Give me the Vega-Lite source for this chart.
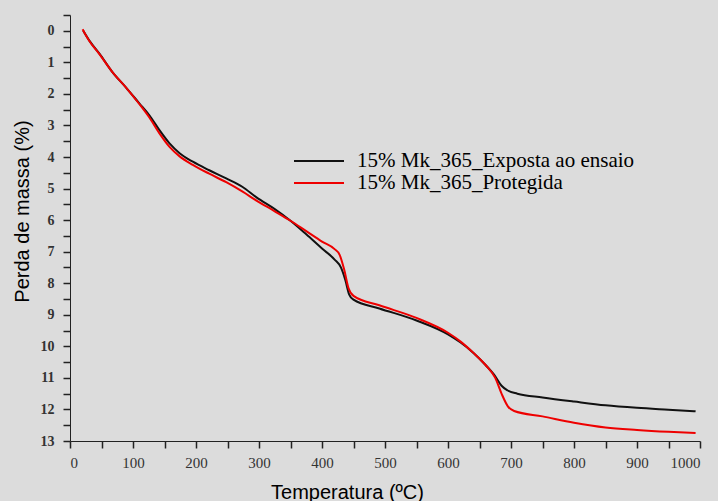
{
  "$schema": "https://vega.github.io/schema/vega-lite/v6.json",
  "width": 630,
  "height": 426,
  "autosize": {"type": "none"},
  "padding": {"left": 70, "top": 15, "right": 18, "bottom": 60},
  "background": "#dcdcdc",
  "config": {"view": {"stroke": null}},
  "data": {
    "values": [
      {"T": 21, "perda": 0.0, "serie": "15% Mk_365_Exposta ao ensaio"},
      {"T": 31, "perda": 0.32, "serie": "15% Mk_365_Exposta ao ensaio"},
      {"T": 47, "perda": 0.73, "serie": "15% Mk_365_Exposta ao ensaio"},
      {"T": 67, "perda": 1.3, "serie": "15% Mk_365_Exposta ao ensaio"},
      {"T": 89, "perda": 1.8, "serie": "15% Mk_365_Exposta ao ensaio"},
      {"T": 110, "perda": 2.3, "serie": "15% Mk_365_Exposta ao ensaio"},
      {"T": 126, "perda": 2.68, "serie": "15% Mk_365_Exposta ao ensaio"},
      {"T": 142, "perda": 3.15, "serie": "15% Mk_365_Exposta ao ensaio"},
      {"T": 158, "perda": 3.57, "serie": "15% Mk_365_Exposta ao ensaio"},
      {"T": 174, "perda": 3.88, "serie": "15% Mk_365_Exposta ao ensaio"},
      {"T": 195, "perda": 4.15, "serie": "15% Mk_365_Exposta ao ensaio"},
      {"T": 221, "perda": 4.42, "serie": "15% Mk_365_Exposta ao ensaio"},
      {"T": 248, "perda": 4.68, "serie": "15% Mk_365_Exposta ao ensaio"},
      {"T": 274, "perda": 4.95, "serie": "15% Mk_365_Exposta ao ensaio"},
      {"T": 296, "perda": 5.28, "serie": "15% Mk_365_Exposta ao ensaio"},
      {"T": 325, "perda": 5.65, "serie": "15% Mk_365_Exposta ao ensaio"},
      {"T": 350, "perda": 6.02, "serie": "15% Mk_365_Exposta ao ensaio"},
      {"T": 375, "perda": 6.45, "serie": "15% Mk_365_Exposta ao ensaio"},
      {"T": 400, "perda": 6.9, "serie": "15% Mk_365_Exposta ao ensaio"},
      {"T": 420, "perda": 7.25, "serie": "15% Mk_365_Exposta ao ensaio"},
      {"T": 430, "perda": 7.5, "serie": "15% Mk_365_Exposta ao ensaio"},
      {"T": 437, "perda": 7.9, "serie": "15% Mk_365_Exposta ao ensaio"},
      {"T": 443, "perda": 8.35, "serie": "15% Mk_365_Exposta ao ensaio"},
      {"T": 450, "perda": 8.52, "serie": "15% Mk_365_Exposta ao ensaio"},
      {"T": 491, "perda": 8.8, "serie": "15% Mk_365_Exposta ao ensaio"},
      {"T": 550, "perda": 9.18, "serie": "15% Mk_365_Exposta ao ensaio"},
      {"T": 600, "perda": 9.62, "serie": "15% Mk_365_Exposta ao ensaio"},
      {"T": 620, "perda": 9.88, "serie": "15% Mk_365_Exposta ao ensaio"},
      {"T": 640, "perda": 10.2, "serie": "15% Mk_365_Exposta ao ensaio"},
      {"T": 660, "perda": 10.6, "serie": "15% Mk_365_Exposta ao ensaio"},
      {"T": 675, "perda": 10.95, "serie": "15% Mk_365_Exposta ao ensaio"},
      {"T": 685, "perda": 11.25, "serie": "15% Mk_365_Exposta ao ensaio"},
      {"T": 695, "perda": 11.4, "serie": "15% Mk_365_Exposta ao ensaio"},
      {"T": 710, "perda": 11.5, "serie": "15% Mk_365_Exposta ao ensaio"},
      {"T": 750, "perda": 11.62, "serie": "15% Mk_365_Exposta ao ensaio"},
      {"T": 800, "perda": 11.75, "serie": "15% Mk_365_Exposta ao ensaio"},
      {"T": 850, "perda": 11.87, "serie": "15% Mk_365_Exposta ao ensaio"},
      {"T": 900, "perda": 11.95, "serie": "15% Mk_365_Exposta ao ensaio"},
      {"T": 950, "perda": 12.01, "serie": "15% Mk_365_Exposta ao ensaio"},
      {"T": 993, "perda": 12.06, "serie": "15% Mk_365_Exposta ao ensaio"},
      {"T": 20, "perda": -0.05, "serie": "15% Mk_365_Protegida"},
      {"T": 24, "perda": 0.1, "serie": "15% Mk_365_Protegida"},
      {"T": 31, "perda": 0.33, "serie": "15% Mk_365_Protegida"},
      {"T": 47, "perda": 0.75, "serie": "15% Mk_365_Protegida"},
      {"T": 67, "perda": 1.3, "serie": "15% Mk_365_Protegida"},
      {"T": 89, "perda": 1.8, "serie": "15% Mk_365_Protegida"},
      {"T": 110, "perda": 2.32, "serie": "15% Mk_365_Protegida"},
      {"T": 126, "perda": 2.75, "serie": "15% Mk_365_Protegida"},
      {"T": 142, "perda": 3.25, "serie": "15% Mk_365_Protegida"},
      {"T": 158, "perda": 3.68, "serie": "15% Mk_365_Protegida"},
      {"T": 174, "perda": 3.98, "serie": "15% Mk_365_Protegida"},
      {"T": 195, "perda": 4.25, "serie": "15% Mk_365_Protegida"},
      {"T": 221, "perda": 4.53, "serie": "15% Mk_365_Protegida"},
      {"T": 248, "perda": 4.8, "serie": "15% Mk_365_Protegida"},
      {"T": 274, "perda": 5.1, "serie": "15% Mk_365_Protegida"},
      {"T": 296, "perda": 5.38, "serie": "15% Mk_365_Protegida"},
      {"T": 325, "perda": 5.72, "serie": "15% Mk_365_Protegida"},
      {"T": 350, "perda": 6.02, "serie": "15% Mk_365_Protegida"},
      {"T": 375, "perda": 6.35, "serie": "15% Mk_365_Protegida"},
      {"T": 400, "perda": 6.68, "serie": "15% Mk_365_Protegida"},
      {"T": 420, "perda": 6.92, "serie": "15% Mk_365_Protegida"},
      {"T": 428, "perda": 7.1, "serie": "15% Mk_365_Protegida"},
      {"T": 435, "perda": 7.55, "serie": "15% Mk_365_Protegida"},
      {"T": 442, "perda": 8.15, "serie": "15% Mk_365_Protegida"},
      {"T": 450, "perda": 8.4, "serie": "15% Mk_365_Protegida"},
      {"T": 491, "perda": 8.7, "serie": "15% Mk_365_Protegida"},
      {"T": 550, "perda": 9.1, "serie": "15% Mk_365_Protegida"},
      {"T": 600, "perda": 9.57, "serie": "15% Mk_365_Protegida"},
      {"T": 620, "perda": 9.85, "serie": "15% Mk_365_Protegida"},
      {"T": 640, "perda": 10.2, "serie": "15% Mk_365_Protegida"},
      {"T": 660, "perda": 10.6, "serie": "15% Mk_365_Protegida"},
      {"T": 675, "perda": 11.0, "serie": "15% Mk_365_Protegida"},
      {"T": 685, "perda": 11.5, "serie": "15% Mk_365_Protegida"},
      {"T": 695, "perda": 11.9, "serie": "15% Mk_365_Protegida"},
      {"T": 705, "perda": 12.05, "serie": "15% Mk_365_Protegida"},
      {"T": 750, "perda": 12.22, "serie": "15% Mk_365_Protegida"},
      {"T": 800, "perda": 12.42, "serie": "15% Mk_365_Protegida"},
      {"T": 850, "perda": 12.57, "serie": "15% Mk_365_Protegida"},
      {"T": 900, "perda": 12.65, "serie": "15% Mk_365_Protegida"},
      {"T": 950, "perda": 12.71, "serie": "15% Mk_365_Protegida"},
      {"T": 993, "perda": 12.75, "serie": "15% Mk_365_Protegida"}
    ]
  },
  "mark": {"type": "line", "strokeWidth": 2, "interpolate": "monotone"},
  "encoding": {
    "x": {
      "field": "T",
      "type": "quantitative",
      "scale": {"domain": [0, 1000], "nice": false},
      "axis": {
        "values": [0, 50, 100, 150, 200, 250, 300, 350, 400, 450, 500, 550, 600, 650, 700, 750, 800, 850, 900, 950, 1000],
        "format": "d",
        "labelExpr": "datum.value % 100 === 0 ? datum.label : ''",
        "labelOverlap": false,
        "grid": false,
        "domainColor": "#222222",
        "tickColor": "#222222",
        "tickWidth": 1.5,
        "tickSize": 7,
        "encode": {"ticks": {"update": {"y2": {"signal": "datum.value % 100 === 0 ? 7 : 3"}}}},
        "labelFont": "Liberation Serif",
        "labelFontSize": 15,
        "labelColor": "#333333",
        "labelPadding": 7,
        "title": "Temperatura (ºC)",
        "titleFont": "Liberation Sans",
        "titleFontSize": 20,
        "titleFontWeight": "normal",
        "titleColor": "#000000",
        "titleX": 277,
        "titleY": 51,
        "titleBaseline": "middle"
      }
    },
    "y": {
      "field": "perda",
      "type": "quantitative",
      "scale": {"domain": [-0.5, 13], "nice": false, "zero": false, "reverse": true},
      "axis": {
        "values": [-0.5, 0, 0.5, 1, 1.5, 2, 2.5, 3, 3.5, 4, 4.5, 5, 5.5, 6, 6.5, 7, 7.5, 8, 8.5, 9, 9.5, 10, 10.5, 11, 11.5, 12, 12.5, 13],
        "labelExpr": "datum.value % 1 === 0 ? format(datum.value, 'd') : ''",
        "labelOverlap": false,
        "grid": false,
        "domainColor": "#222222",
        "tickColor": "#222222",
        "tickWidth": 1.5,
        "tickSize": 7,
        "encode": {"ticks": {"update": {"x2": {"signal": "datum.value % 1 === 0 ? -7 : -3"}}}},
        "labelFont": "Liberation Serif",
        "labelFontSize": 14,
        "labelFontWeight": "bold",
        "labelColor": "#333333",
        "labelPadding": 9,
        "title": "Perda de massa (%)",
        "titleFont": "Liberation Sans",
        "titleFontSize": 20,
        "titleFontWeight": "normal",
        "titleColor": "#000000",
        "titleX": -48,
        "titleY": 196,
        "titleBaseline": "middle"
      }
    },
    "color": {
      "field": "serie",
      "type": "nominal",
      "scale": {"domain": ["15% Mk_365_Exposta ao ensaio", "15% Mk_365_Protegida"], "range": ["#111111", "#ee0000"]},
      "legend": {
        "title": null,
        "orient": "none",
        "legendX": 238,
        "legendY": 135,
        "symbolType": "M-2.5,0H2.5",
        "symbolSize": 400,
        "symbolStrokeWidth": 2,
        "labelFont": "Liberation Serif",
        "labelFontSize": 21,
        "labelColor": "#000000",
        "labelOffset": 27,
        "labelLimit": 400,
        "rowPadding": 1
      }
    }
  }
}
